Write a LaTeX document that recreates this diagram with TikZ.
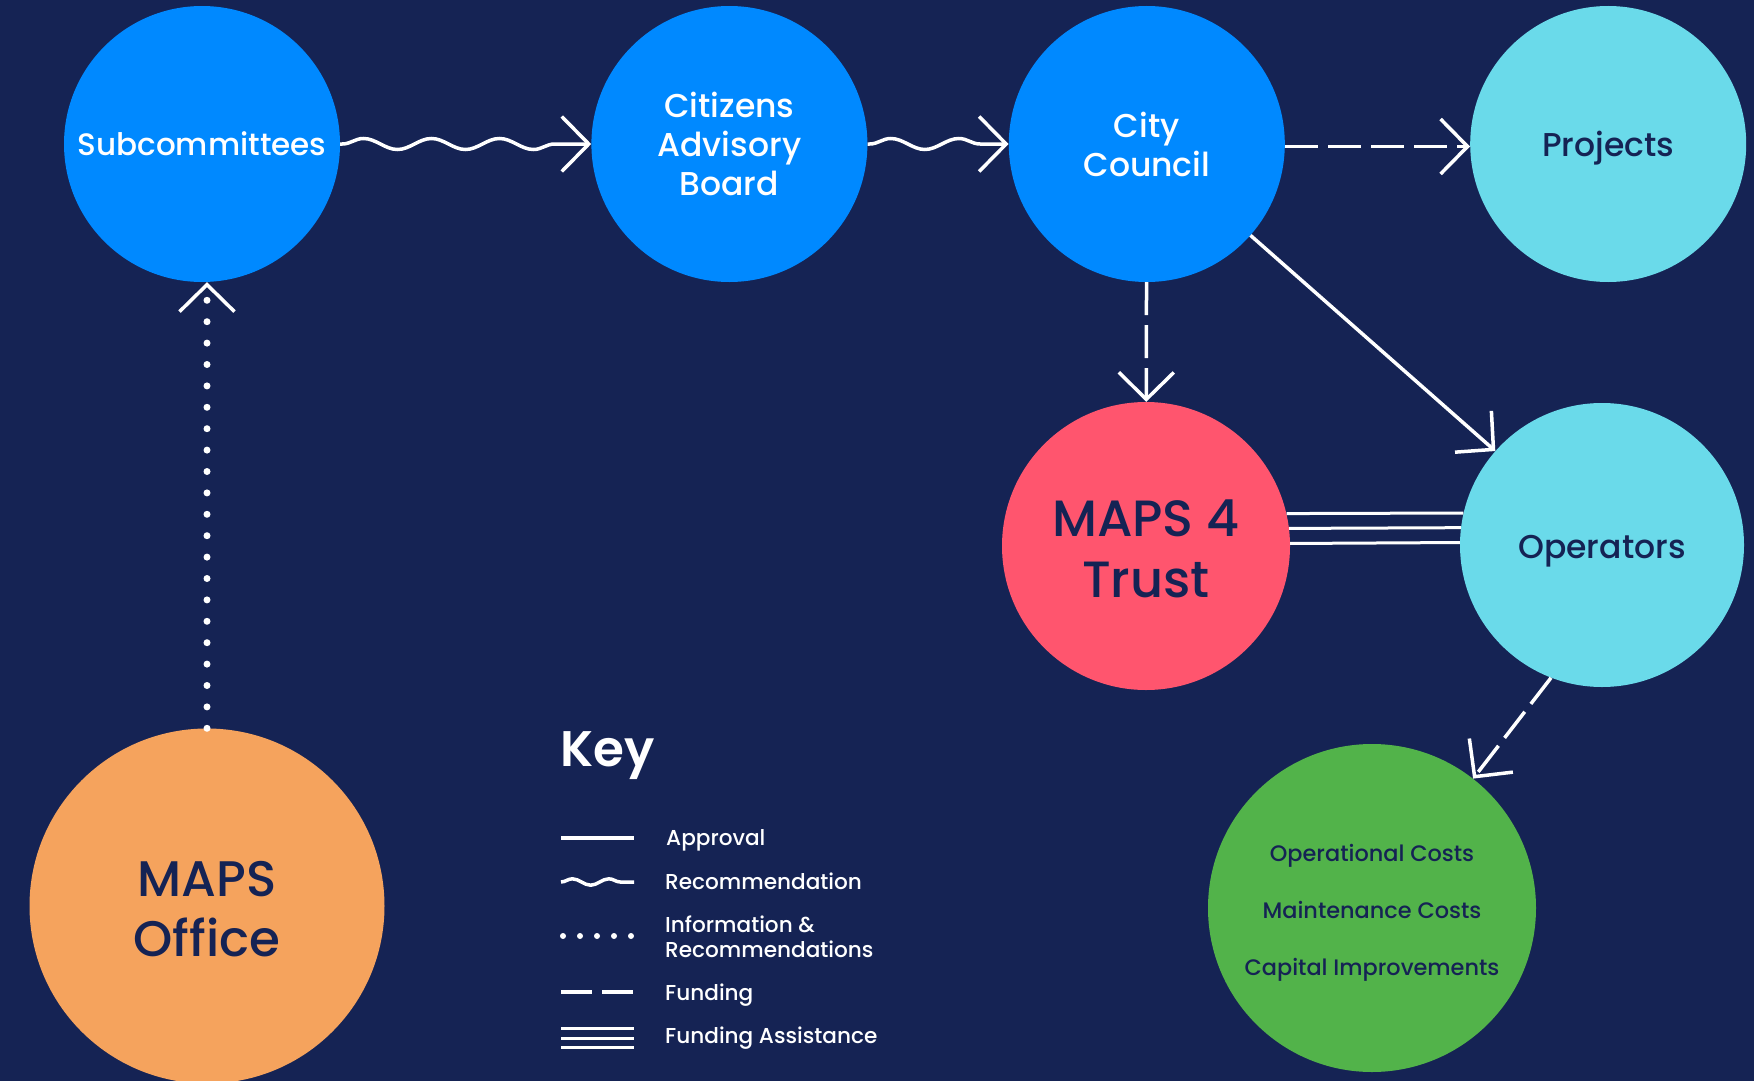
\documentclass[tikz,border=0pt]{standalone}
\usepackage{fontspec}
\setmainfont{Poppins}[UprightFont={* Medium}, BoldFont={* SemiBold}]
\usetikzlibrary{arrows.meta,positioning,decorations.pathmorphing}

\definecolor{navy}{HTML}{152354}
\definecolor{mapsblue}{HTML}{0089FF}
\definecolor{mapscyan}{HTML}{6ADAEA}
\definecolor{mapsred}{HTML}{FF556E}
\definecolor{mapsgreen}{HTML}{52B34A}
\definecolor{mapsorange}{HTML}{F5A35D}

% lower a line of text, keeping its box
\newcommand{\drop}[2]{\raisebox{-#1}[\height][\depth]{#2}}

\begin{document}
\begin{tikzpicture}[x=1pt, y=-1pt, >={Straight Barb[length=27pt, width=55pt, line width=3.5pt 0]}]
\tikzset{
  hub/.style = {circle, fill=mapsblue, text=white, align=center, minimum size=276pt, inner sep=0pt, font=\fontsize{33}{39}\selectfont},
  spoke/.style = {circle, fill=mapscyan, text=navy, align=center, minimum size=284pt, inner sep=0pt, font=\fontsize{33}{39}\selectfont},
  core/.style = {circle, text=navy, align=center, inner sep=0pt, font=\fontsize{51}{61}\selectfont},
  link/.style = {white, line width=3.5pt},
  approve/.style = {link},
  recommend/.style = {link, decorate, decoration={snake, segment length=68pt, amplitude=5.5pt, pre length=2pt, post length=4pt}},
  inform/.style = {link, line width=7pt, line cap=round, dash pattern=on 0pt off 21.4pt},
  fund/.style = {link, dash pattern=on 33pt off 10pt},
  assist/.style = {link, line width=3pt},
  keylabel/.style = {anchor=base west, text=white, inner sep=0pt, align=left, font=\fontsize{21.6}{24.5}\selectfont}
}

% Background
\fill[navy] (0,0) rectangle (1754,1081);
\useasboundingbox (0,0) rectangle (1754,1081);

% Top row
\node[hub, font=\fontsize{31}{39}\selectfont] (subc) at (202,144) {Subcommittees};
\node[hub, right=251pt of subc] (cab) {Citizens\\Advisory\\Board};
\node[hub, right=141pt of cab] (council) {City\\Council};
\node[hub, fill=mapscyan, text=navy, right=185pt of council] (proj) {\drop{4.5pt}{Projects}};

% Lower circles
\node[core, fill=mapsred, minimum size=288pt] (trust) at (1146,546) {\drop{2.5pt}{MAPS 4}\\\drop{2.5pt}{Trust}};
\node[spoke] (ops) at (1602,545) {\drop{6.5pt}{Operators}};
\node[core, fill=mapsgreen, minimum size=328pt, font=\fontsize{22.4}{57}\selectfont] (costs) at (1372,908)
  {\drop{4.5pt}{Operational Costs}\\\drop{4.5pt}{Maintenance Costs}\\\drop{4.5pt}{Capital Improvements}};
\node[core, fill=mapsorange, minimum size=355pt, font=\fontsize{50}{60}\selectfont] (office) at (207,906)
  {\drop{3.5pt}{MAPS}\\\drop{3.5pt}{Office}};

% Edges
\draw[recommend, ->] (subc) -- (cab);
\draw[recommend, ->] (cab) -- (council);
\draw[fund, ->] ([yshift=-2.5pt]council.east) -- ([yshift=-2.5pt]proj.west);
\draw[fund, ->] (council) -- (trust);
\draw[approve, ->] (council) -- (ops);
\draw[fund, ->] (ops.-111) -- (costs.52);
\draw[inform, ->] (office) -- (subc.south -| office);
\foreach \a/\b in {13/167, 7/173, 1/179}
  \draw[assist] (trust.\a) -- (ops.\b);

% Key
\node[anchor=base west, text=white, inner sep=0pt, font=\fontsize{50}{50}\selectfont\bfseries] (keytitle) at (560,766) {Key};

\node[keylabel] (lapp) at (666,845) {Approval};
\node[keylabel] (lrec) at (665,889) {Recommendation};
\node[keylabel] (linf) at (665,957) {Information \&\\Recommendations};
\node[keylabel] (lfund) at (665,1000) {Funding};
\node[keylabel] (lassist) at (665,1043) {Funding Assistance};

\coordinate (k1a) at (561,838);  \coordinate (k1b) at (634,838);
\coordinate (k2a) at (561,882);  \coordinate (k2b) at (634,882);
\coordinate (k3a) at (563,936);  \coordinate (k3b) at (632,936);
\coordinate (k4a) at (561,992);  \coordinate (k4b) at (634,992);
\draw[approve] (k1a) -- (k1b);
\draw[link, decorate, decoration={snake, segment length=36.5pt, amplitude=3.2pt}] (k2a) -- (k2b);
\draw[inform, line width=6pt, dash pattern=on 0pt off 17pt] (k3a) -- (k3b);
\draw[fund, dash pattern=on 31pt off 10pt] (k4a) -- (k4b);
\foreach \y in {1028,1038,1047}
  \draw[assist] (561,\y) -- (634,\y);

\end{tikzpicture}
\end{document}
